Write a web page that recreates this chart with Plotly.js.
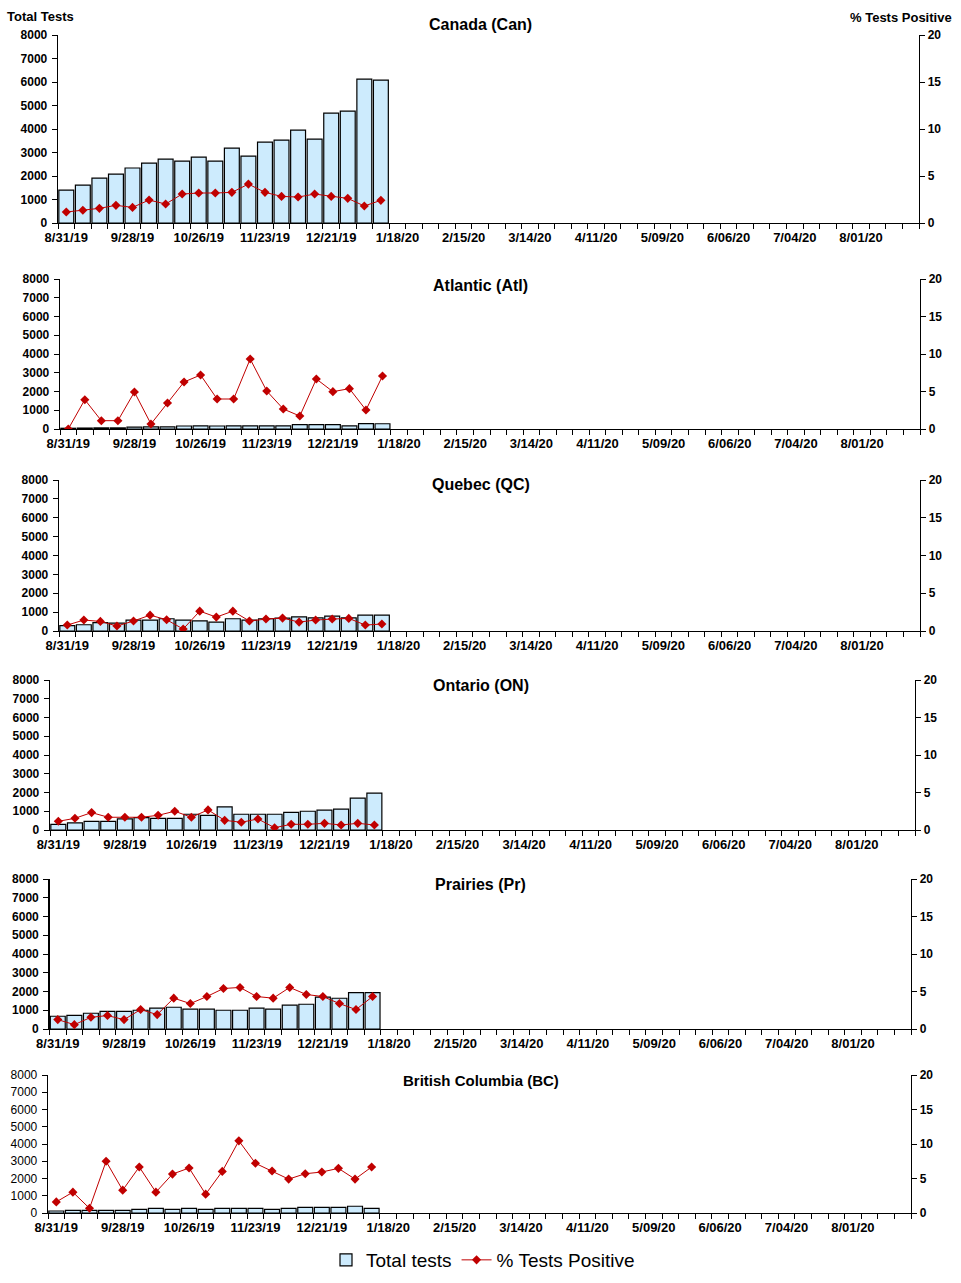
<!DOCTYPE html>
<html>
<head>
<meta charset="utf-8">
<script src="https://cdn.plot.ly/plotly-3.0.1.min.js"></script>
<style>body{margin:0;background:#fff}</style>
</head>
<body>
<div id="chart" style="width:961px;height:1283px"></div>
<script>
/* ---------------- week categories (surveillance weeks) ---------------- */
var weeks = ['8/31/19', '9/07/19', '9/14/19', '9/21/19', '9/28/19', '10/05/19', '10/12/19', '10/19/19',
  '10/26/19', '11/02/19', '11/09/19', '11/16/19', '11/23/19', '11/30/19', '12/07/19', '12/14/19',
  '12/21/19', '12/28/19', '1/04/20', '1/11/20', '1/18/20', '1/25/20', '2/01/20', '2/08/20',
  '2/15/20', '2/22/20', '2/29/20', '3/07/20', '3/14/20', '3/21/20', '3/28/20', '4/04/20',
  '4/11/20', '4/18/20', '4/25/20', '5/02/20', '5/09/20', '5/16/20', '5/23/20', '5/30/20',
  '6/06/20', '6/13/20', '6/20/20', '6/27/20', '7/04/20', '7/11/20', '7/18/20', '7/25/20',
  '8/01/20', '8/08/20', '8/15/20', '8/22/20'];
var labelWeeks = ['8/31/19', '9/28/19', '10/26/19', '11/23/19', '12/21/19', '1/18/20', '2/15/20',
  '3/14/20', '4/11/20', '5/09/20', '6/06/20', '7/04/20', '8/01/20'];

var regionNames = ['Canada (Can)', 'Atlantic (Atl)', 'Quebec (QC)', 'Ontario (ON)', 'Prairies (Pr)', 'British Columbia (BC)'];

/* ---------------- values ---------------- */
var canTests = [1400, 1615, 1910, 2080, 2340, 2550, 2720, 2635, 2800, 2635, 3190, 2850, 3440, 3530, 3950, 3570, 4675, 4760, 6120, 6080];
var canPct   = [1.17, 1.35, 1.56, 1.88, 1.66, 2.44, 2.02, 3.08, 3.19, 3.19, 3.26, 4.14, 3.26, 2.83, 2.76, 3.08, 2.83, 2.62, 1.81, 2.41];

var atlTests = [40, 50, 60, 60, 100, 110, 110, 160, 170, 160, 170, 170, 170, 170, 230, 230, 230, 170, 290, 280];
var atlPct   = [0, 3.91, 1.11, 1.11, 4.93, 0.67, 3.47, 6.27, 7.2, 4.0, 4.0, 9.33, 5.07, 2.67, 1.73, 6.67, 4.98, 5.38, 2.53, 7.07];

var qcTests = [280, 330, 440, 420, 580, 580, 650, 580, 540, 470, 650, 580, 650, 680, 750, 700, 790, 700, 840, 840];
var qcPct   = [0.79, 1.45, 1.27, 0.66, 1.32, 2.1, 1.49, 0.26, 2.63, 1.84, 2.63, 1.32, 1.58, 1.71, 1.18, 1.45, 1.58, 1.67, 0.79, 0.92];

var onTests = [300, 375, 465, 465, 590, 660, 625, 625, 840, 785, 1230, 840, 840, 840, 945, 1000, 1055, 1110, 1700, 1965];
var onPct   = [1.16, 1.56, 2.32, 1.70, 1.70, 1.70, 1.96, 2.5, 1.70, 2.68, 1.29, 1.03, 1.47, 0.31, 0.76, 0.76, 0.89, 0.67, 0.89, 0.67];

var prTests = [680, 730, 840, 945, 945, 1000, 1110, 1160, 1055, 1055, 1000, 1000, 1110, 1055, 1270, 1320, 1700, 1640, 1945, 1945];
var prPct   = [1.25, 0.58, 1.56, 1.79, 1.25, 2.59, 1.92, 4.11, 3.39, 4.33, 5.40, 5.54, 4.33, 4.11, 5.54, 4.60, 4.33, 3.39, 2.59, 4.33];

var bcTests = [115, 155, 155, 155, 155, 215, 270, 215, 270, 215, 270, 270, 270, 215, 270, 330, 330, 330, 390, 270];
var bcPct   = [1.61, 3.02, 0.68, 7.49, 3.31, 6.67, 3.02, 5.64, 6.52, 2.73, 6.03, 10.46, 7.20, 6.08, 4.91, 5.69, 5.94, 6.47, 4.91, 6.67];

var testsByRegion = [canTests, atlTests, qcTests, onTests, prTests, bcTests];
var pctByRegion = [canPct, atlPct, qcPct, onPct, prPct, bcPct];

/* ---------------- panel boxes in pixels: left, right, top, bottom ---------------- */
var W = 961, H = 1283;
var boxes = [
  [58, 919, 35, 223],
  [60, 920, 279, 429],
  [59, 920, 480, 631],
  [50, 915, 680, 830],
  [49.5, 911, 879, 1029],
  [48, 911, 1075, 1213]
];
var titleY = [25, 285, 484, 685, 884, 1080];
var titleSize = [16, 16, 16, 16, 16, 15];

var px = function (x) { return x / W; };
var py = function (y) { return 1 - y / H; };

var font = 'Liberation Sans, Arial, sans-serif';
var barFill = '#CDEBFD';
var lineRed = '#C00000';

var ticktext = weeks.map(function (w) { return labelWeeks.indexOf(w) >= 0 ? w : ''; });

var data = [];
var layout = {
  width: W, height: H,
  margin: {l: 0, r: 0, t: 0, b: 0},
  paper_bgcolor: '#fff',
  plot_bgcolor: 'rgba(0,0,0,0)',
  font: {family: font, color: '#000'},
  bargap: 0.1,
  showlegend: true,
  legend: {
    orientation: 'h', x: px(483), xanchor: 'center', y: py(1260), yanchor: 'middle',
    font: {family: font, size: 19, color: '#000'},
    itemwidth: 30, tracegroupgap: 0
  },
  annotations: []
};

for (var i = 0; i < 6; i++) {
  var xa = 'x' + (i + 1);
  var yl = 'y' + (2 * i + 1);
  var yr = 'y' + (2 * i + 2);
  var n = testsByRegion[i].length;
  var b = boxes[i];

  data.push({
    type: 'bar', name: 'Total tests',
    x: weeks.slice(0, n), y: testsByRegion[i],
    xaxis: xa, yaxis: yl,
    marker: {color: barFill, line: {color: '#000', width: 1.2}},
    showlegend: i === 0
  });
  data.push({
    type: 'scatter', mode: 'lines+markers', name: '% Tests Positive',
    x: weeks.slice(0, n), y: pctByRegion[i],
    xaxis: xa, yaxis: yr,
    line: {color: lineRed, width: 1},
    marker: {symbol: 'diamond', size: 7, color: lineRed},
    showlegend: i === 0
  });

  var bold = {family: font, size: 12, color: '#000', weight: 'bold'};
  var xbold = {family: font, size: 13, color: '#000', weight: 'bold'};
  var yTickFont = i === 5 ? {family: font, size: 12, color: '#000'} : bold;

  layout['xaxis' + (i + 1)] = {
    type: 'category',
    categoryorder: 'array', categoryarray: weeks,
    range: [-0.5, weeks.length - 0.5],
    domain: [px(b[0]), px(b[1])],
    anchor: yl,
    tickmode: 'array', tickvals: weeks, ticktext: ticktext,
    tickson: 'boundaries',
    ticks: 'outside', ticklen: 5, tickwidth: 1, tickcolor: '#000',
    ticklabelstandoff: 2,
    showline: true, linecolor: '#000', linewidth: 1.3,
    showgrid: false, zeroline: false,
    tickfont: xbold, tickangle: 0
  };
  layout['yaxis' + (2 * i + 1)] = {
    domain: [py(b[3]), py(b[2])],
    anchor: xa,
    range: [0, 8000], dtick: 1000, tick0: 0,
    ticks: 'outside', ticklen: 5, tickwidth: 1, tickcolor: '#000',
    ticklabelstandoff: 2,
    showline: true, linecolor: '#000', linewidth: 1.3,
    showgrid: false, zeroline: false,
    tickfont: yTickFont
  };
  layout['yaxis' + (2 * i + 2)] = {
    overlaying: yl, side: 'right', anchor: xa,
    range: [0, 20], dtick: 5, tick0: 0,
    ticks: 'outside', ticklen: 5, tickwidth: 1, tickcolor: '#000',
    showline: true, linecolor: '#000', linewidth: 1.3,
    showgrid: false, zeroline: false,
    tickfont: bold
  };

  layout.annotations.push({
    xref: 'paper', yref: 'paper', x: px(481), y: py(titleY[i]),
    xanchor: 'center', yanchor: 'middle', showarrow: false,
    text: regionNames[i],
    font: {family: font, size: titleSize[i], color: '#000', weight: 'bold'}
  });
}

layout.annotations.push({
  xref: 'paper', yref: 'paper', x: px(5), y: py(17),
  xanchor: 'left', yanchor: 'middle', showarrow: false,
  text: 'Total Tests', font: {family: font, size: 13, color: '#000', weight: 'bold'}
});
layout.annotations.push({
  xref: 'paper', yref: 'paper', x: px(954), y: py(18),
  xanchor: 'right', yanchor: 'middle', showarrow: false,
  text: '% Tests Positive', font: {family: font, size: 13, color: '#000', weight: 'bold'}
});

Plotly.newPlot('chart', data, layout, {staticPlot: true});
</script>
</body>
</html>
